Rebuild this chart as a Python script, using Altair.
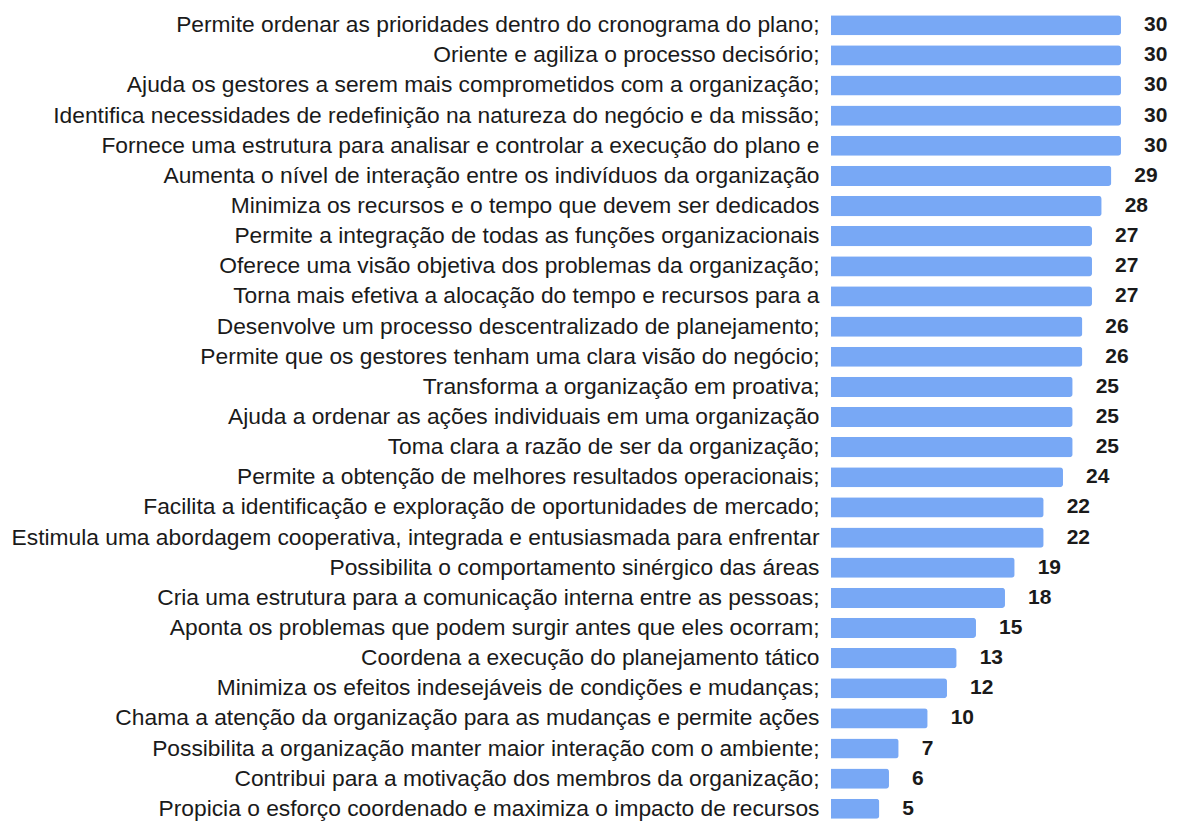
import altair as alt
import pandas as pd

categories = [
    "Permite ordenar as prioridades dentro do cronograma do plano;",
    "Oriente e agiliza o processo decisório;",
    "Ajuda os gestores a serem mais comprometidos com a organização;",
    "Identifica necessidades de redefinição na natureza do negócio e da missão;",
    "Fornece uma estrutura para analisar e controlar a execução do plano e",
    "Aumenta o nível de interação entre os indivíduos da organização",
    "Minimiza os recursos e o tempo que devem ser dedicados",
    "Permite a integração de todas as funções organizacionais",
    "Oferece uma visão objetiva dos problemas da organização;",
    "Torna mais efetiva a alocação do tempo e recursos para a",
    "Desenvolve um processo descentralizado de planejamento;",
    "Permite que os gestores tenham uma clara visão do negócio;",
    "Transforma a organização em proativa;",
    "Ajuda a ordenar as ações individuais em uma organização",
    "Toma clara a razão de ser da organização;",
    "Permite a obtenção de melhores resultados operacionais;",
    "Facilita a identificação e exploração de oportunidades de mercado;",
    "Estimula uma abordagem cooperativa, integrada e entusiasmada para enfrentar",
    "Possibilita o comportamento sinérgico das áreas",
    "Cria uma estrutura para a comunicação interna entre as pessoas;",
    "Aponta os problemas que podem surgir antes que eles ocorram;",
    "Coordena a execução do planejamento tático",
    "Minimiza os efeitos indesejáveis de condições e mudanças;",
    "Chama a atenção da organização para as mudanças e permite ações",
    "Possibilita a organização manter maior interação com o ambiente;",
    "Contribui para a motivação dos membros da organização;",
    "Propicia o esforço coordenado e maximiza o impacto de recursos",
]
values = [30, 30, 30, 30, 30, 29, 28, 27, 27, 27, 26, 26, 25, 25, 25, 24,
          22, 22, 19, 18, 15, 13, 12, 10, 7, 6, 5]

df = pd.DataFrame({"cat": categories, "val": values})

y = alt.Y("cat:N", sort=categories, title=None,
          scale=alt.Scale(paddingInner=0.33, paddingOuter=0.17),
          axis=alt.Axis(domain=False, ticks=False, labelFont="Liberation Sans",
                        labelFontSize=22.8, labelColor="#1a1a1a", labelLimit=900,
                        labelPadding=12))
x = alt.X("val:Q", title=None, scale=alt.Scale(domain=[0, 31.2], nice=False),
          axis=None)

bars = alt.Chart(df).mark_bar(color="#78a8f5", cornerRadiusEnd=3).encode(x=x, y=y)
labels = alt.Chart(df).mark_text(align="left", baseline="middle", dx=23,
                                 font="Liberation Sans", fontWeight="bold",
                                 fontSize=21, color="#1a1a1a").encode(
    x=x, y=y, text="val:Q")

chart = (bars + labels).properties(width=301.6, height=814,
                                   padding={"left": 2, "top": 2, "right": 0, "bottom": 0}
                                   ).configure_view(stroke=None)

chart.save("out.html", embed_options={"renderer": "svg", "actions": False})
